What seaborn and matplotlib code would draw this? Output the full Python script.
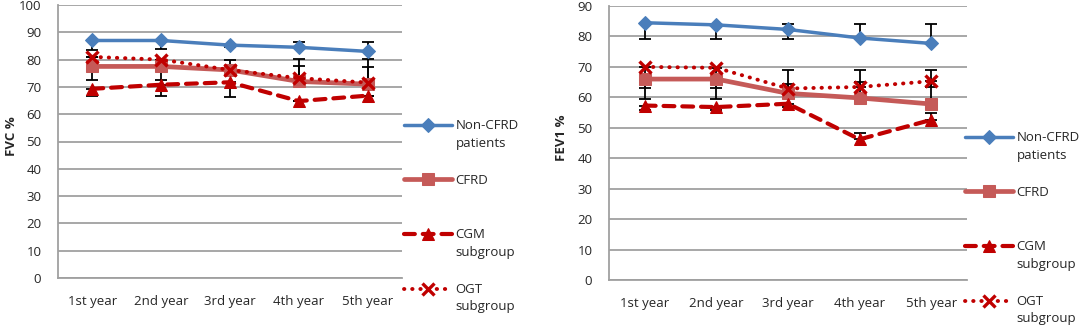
import numpy as np
import pandas as pd
import matplotlib
matplotlib.use("Agg")
import matplotlib.pyplot as plt
import seaborn as sns

# categories
years = ["1st year", "2nd year", "3rd year", "4th year", "5th year"]
series_names = ["Non-CFRD\npatients", "CFRD", "CGM\nsubgroup", "OGT\nsubgroup"]

# FVC % (left panel)
fvc_non_cfrd = [87.0, 87.0, 85.3, 84.5, 83.0]
fvc_cfrd = [77.5, 77.5, 76.2, 72.0, 71.0]
fvc_cgm = [69.3, 70.8, 71.7, 64.8, 66.8]
fvc_ogt = [81.0, 80.0, 76.2, 73.2, 71.6]

# FVC error bar lengths (down, up), one-sided as in the source
fvc_non_cfrd_err = [[3.5, 3.1, 0.8, 0.0, 0.0], [0.0, 0.0, 0.0, 1.9, 3.6]]
fvc_cfrd_err = [[5.0, 5.0, 0.0, 0.0, 0.0], [0.0, 0.0, 3.7, 5.8, 6.4]]
fvc_cgm_err = [[2.7, 4.2, 5.3, 0.0, 0.0], [0.0, 0.0, 0.0, 0.0, 0.0]]
fvc_ogt_err = [[0.0, 0.0, 0.0, 0.0, 0.0], [0.0, 0.0, 0.0, 7.0, 8.6]]

# FEV1 % (right panel)
fev1_non_cfrd = [84.5, 83.8, 82.3, 79.5, 77.7]
fev1_cfrd = [66.0, 66.0, 61.3, 59.8, 57.8]
fev1_cgm = [57.3, 56.8, 57.9, 46.2, 52.6]
fev1_ogt = [70.0, 69.7, 62.9, 63.4, 65.3]

fev1_non_cfrd_err = [[5.5, 4.8, 3.3, 0.0, 0.0], [0.0, 0.0, 1.7, 4.7, 6.5]]
fev1_cfrd_err = [[6.7, 6.7, 0.0, 0.0, 0.0], [0.0, 0.0, 7.6, 9.1, 11.1]]
fev1_cgm_err = [[1.5, 1.0, 1.0, 0.0, 0.0], [0.0, 0.0, 0.0, 2.1, 2.1]]
fev1_ogt_err = [[6.9, 6.6, 0.0, 0.0, 2.0], [0.0, 0.0, 1.4, 1.6, 0.0]]

styles = {
    "Non-CFRD\npatients": dict(color="#4A7EBB", marker="D", markersize=7.5, linewidth=2.5,
                               linestyle="-"),
    "CFRD": dict(color="#C55A58", marker="s", markersize=9, linewidth=3.4, linestyle="-"),
    "CGM\nsubgroup": dict(color="#C00000", marker="^", markersize=9, linewidth=3.0,
                          linestyle=(0, (2.6, 1.9))),
    "OGT\nsubgroup": dict(color="#C00000", marker="x", markersize=8.5, linewidth=2.8,
                          linestyle=(0, (0.1, 2.0)), markeredgewidth=2.4),
}

sns.set_style("white")
plt.rcParams["font.family"] = ["Open Sans", "DejaVu Sans"]

fig = plt.figure(figsize=(10.84, 3.28), dpi=100)
ax_l = fig.add_axes([58 / 1084, 1 - 278 / 328, 344 / 1084, 273 / 328])
ax_r = fig.add_axes([609 / 1084, 1 - 280 / 328, 358 / 1084, 274 / 328])


def draw_panel(ax, values, errors, ymax, ylabel, leg_anchor):
    xpos = np.arange(len(years))
    for name, vals, err in zip(series_names, values, errors):
        df = pd.DataFrame({"year": years, "value": vals})
        st = dict(styles[name])
        sns.lineplot(data=df, x="year", y="value", ax=ax, label=name, sort=False,
                     markeredgecolor=st["color"], **st)
        line = ax.lines[-1]
        line.set_dash_capstyle("round")
        line.set_solid_capstyle("round")
        line.set_zorder(3)
        ax.errorbar(xpos, vals, yerr=err, fmt="none", ecolor="black", elinewidth=1.3,
                    capsize=4, capthick=1.3, zorder=2.5)

    ax.set_xlim(-0.5, len(years) - 0.5)
    ax.set_ylim(0, ymax)
    ax.set_yticks(np.arange(0, ymax + 1, 10))
    ax.grid(axis="y", color="#A0A0A0", linewidth=1.3)
    ax.grid(axis="x", visible=False)
    ax.set_axisbelow(True)
    for side in ["top", "right"]:
        ax.spines[side].set_visible(False)
    for side in ["left", "bottom"]:
        ax.spines[side].set_color("#A0A0A0")
        ax.spines[side].set_linewidth(1.3)
    ax.tick_params(axis="y", length=3, color="#A0A0A0", pad=9, labelsize=9.5)
    ax.tick_params(axis="x", length=0, pad=12, labelsize=9.5)
    ax.set_xlabel("")
    ax.set_ylabel(ylabel, fontsize=9.5, fontweight="bold")
    ax.yaxis.set_label_coords(-0.115, 0.52)

    # Excel-like legend: every entry two lines tall, marker on the first line
    handles, labels = ax.get_legend_handles_labels()
    labels = [lab if "\n" in lab else lab + "\n " for lab in labels]
    leg = ax.legend(handles, labels, loc="upper left", bbox_to_anchor=leg_anchor,
                    bbox_transform=fig.transFigure, frameon=False, fontsize=9.5,
                    handlelength=3.6, handleheight=1.2, handletextpad=0.3,
                    labelspacing=1.83, borderpad=0, borderaxespad=0)
    for t in leg.get_texts():
        t.set_linespacing(1.45)
    for col in leg._legend_handle_box.get_children():
        for row in col.get_children():
            row.align = "top"


draw_panel(ax_l, [fvc_non_cfrd, fvc_cfrd, fvc_cgm, fvc_ogt],
           [fvc_non_cfrd_err, fvc_cfrd_err, fvc_cgm_err, fvc_ogt_err],
           100, "FVC %", (404 / 1084, 1 - 119 / 328))
draw_panel(ax_r, [fev1_non_cfrd, fev1_cfrd, fev1_cgm, fev1_ogt],
           [fev1_non_cfrd_err, fev1_cfrd_err, fev1_cgm_err, fev1_ogt_err],
           90, "FEV1 %", (965 / 1084, 1 - 131 / 328))

fig.savefig("out.png", dpi=100)
